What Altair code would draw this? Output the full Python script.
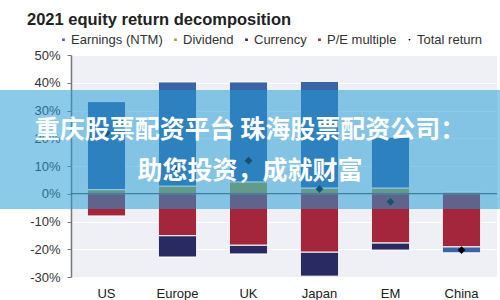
import altair as alt
import pandas as pd

# ---- data (percent) ----
countries = ["US", "Europe", "UK", "Japan", "EM", "China"]
earnings = [31.7, 37.6, 36.1, 38.5, 18.4, -2.2]
dividend = [1.5, 2.7, 4.2, 2.0, 2.0, 0.7]
currency = [0.0, -7.7, -3.2, -8.7, -2.6, 0.0]
pe_multiple = [-8.0, -15.1, -18.5, -21.0, -17.7, -19.1]
total_return = [22.0, 9.0, 11.9, 1.7, -2.9, -20.3]

components = ["Earnings (NTM)", "Dividend", "Currency", "P/E multiple", "Total return"]
colors = ["#3b64a6", "#a89c3a", "#2a2a62", "#a3263a", "#000000"]
shapes = ["square", "square", "square", "square", "diamond"]
stack_rank = {"Dividend": 0, "P/E multiple": 1, "Currency": 2, "Earnings (NTM)": 3}
y_ticks = [-0.3, -0.2, -0.1, 0.0, 0.1, 0.2, 0.3, 0.4, 0.5]

title_text = "2021 equity return decomposition"
banner_line1 = "重庆股票配资平台 珠海股票配资公司："
banner_line2 = "助您投资，成就财富"

# ---- tables ----
rows = []
for comp, vals in [("Earnings (NTM)", earnings), ("Dividend", dividend),
                   ("Currency", currency), ("P/E multiple", pe_multiple)]:
    for c, v in zip(countries, vals):
        rows.append({"country": c, "component": comp, "value": v / 100.0,
                     "rank": stack_rank[comp]})
bar_df = pd.DataFrame(rows)
tot_df = pd.DataFrame({"country": countries,
                       "value": [v / 100.0 for v in total_return],
                       "component": ["Total return"] * len(countries)})
zero_df = pd.DataFrame({"value": [0.0]})
one_df = pd.DataFrame({"a": [0]})

FONT = "Liberation Sans"

x_axis = alt.Axis(title=None, labelAngle=0, domain=False, ticks=False,
                  labelPadding=10, labelFontSize=13, labelFont=FONT,
                  labelColor="#222222", grid=False)
y_axis = alt.Axis(title=None, values=y_ticks,
                  labelExpr="replace(format(datum.value, '.0%'), '\u2212', '-')",
                  labelOverlap=False,
                  labelFontSize=13, labelFont=FONT, labelColor="#333333",
                  labelPadding=7, tickSize=4, tickColor="#777777",
                  domainColor="#777777", domainWidth=1.5,
                  grid=True, gridColor="#ffffff", gridWidth=1)
x_scale = alt.Scale(paddingInner=0.46, paddingOuter=0.23)
y_scale = alt.Scale(domain=[-0.3, 0.5], nice=False)
color_scale = alt.Scale(domain=components, range=colors)

bars = alt.Chart(bar_df).mark_bar(stroke="white", strokeWidth=1).encode(
    x=alt.X("country:N", sort=countries, scale=x_scale, axis=x_axis),
    y=alt.Y("value:Q", stack="zero", scale=y_scale, axis=y_axis),
    color=alt.Color("component:N", scale=color_scale,
                    legend=alt.Legend(title=None, orient="none", legendX=-14,
                                      legendY=-22, direction="horizontal",
                                      columns=5, columnPadding=6,
                                      labelFontSize=13, labelFont=FONT,
                                      labelColor="#333333", symbolSize=18,
                                      labelOffset=1, padding=0)),
    order=alt.Order("rank:Q"),
)

zero_rule = alt.Chart(zero_df).mark_rule(color="#333333", strokeWidth=1).encode(
    y=alt.Y("value:Q", scale=y_scale, axis=y_axis))

points = alt.Chart(tot_df).mark_point(filled=True, size=60, opacity=1).encode(
    x=alt.X("country:N", sort=countries, scale=x_scale, axis=x_axis),
    y=alt.Y("value:Q", scale=y_scale, axis=y_axis),
    color=alt.Color("component:N", scale=color_scale),
    shape=alt.Shape("component:N", scale=alt.Scale(domain=components, range=shapes)),
)

title = alt.Chart(one_df).mark_text(
    font=FONT, fontSize=16.5, fontWeight="bold", color="#222222",
    align="left", baseline="alphabetic").encode(
    x=alt.value(-44), y=alt.value(-30), text=alt.value(title_text))

banner = alt.Chart(one_df).mark_rect(color="#249bd5", opacity=0.53).encode(
    x=alt.value(-71), x2=alt.value(429), y=alt.value(35), y2=alt.value(154))

text1 = alt.Chart(one_df).mark_text(
    font="Noto Sans CJK SC", fontSize=25, fontWeight="bold", color="white",
    align="center", baseline="middle").encode(
    x=alt.value(179), y=alt.value(75), text=alt.value(banner_line1))
text2 = alt.Chart(one_df).mark_text(
    font="Noto Sans CJK SC", fontSize=25, fontWeight="bold", color="white",
    align="center", baseline="middle").encode(
    x=alt.value(179), y=alt.value(116), text=alt.value(banner_line2))

chart = alt.layer(bars, zero_rule, points, title, banner, text1, text2).properties(
    width=426, height=222,
    autosize=alt.AutoSizeParams(type="none"),
    padding={"left": 71, "top": 55, "right": 3, "bottom": 23},
    background="white",
).configure_view(fill="#eef0f5", strokeWidth=0
).configure_axisY(labelOverlap=False)

chart.save("out.html", embed_options={"renderer": "svg", "actions": False})
